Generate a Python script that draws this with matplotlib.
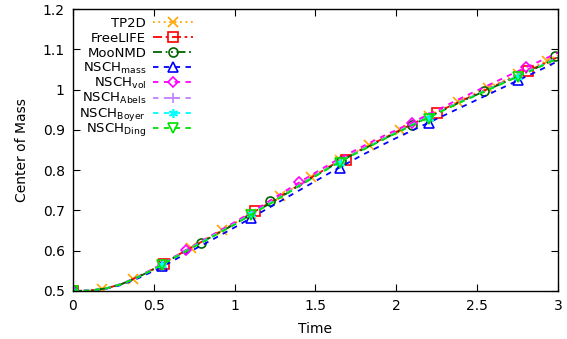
import numpy as np
import matplotlib
matplotlib.use("Agg")
import matplotlib.pyplot as plt

plt.rcParams['font.family'] = ['DejaVu Sans']
plt.rcParams['mathtext.fontset'] = 'dejavusans'

# -------------------------------------------------
# data
# -------------------------------------------------

time = np.round(np.arange(0, 31) * 0.1, 2)

tp2d = [0.500, 0.501, 0.506, 0.517, 0.534, 0.555, 0.578, 0.601, 0.624, 0.647, 0.669,
        0.692, 0.716, 0.740, 0.765, 0.789, 0.813, 0.835, 0.856, 0.876, 0.896,
        0.916, 0.935, 0.955, 0.974, 0.993, 1.011, 1.029, 1.048, 1.066, 1.085]
freelife = [0.500, 0.501, 0.506, 0.517, 0.535, 0.555, 0.578, 0.601, 0.623, 0.645, 0.668,
            0.692, 0.715, 0.739, 0.764, 0.788, 0.812, 0.834, 0.855, 0.875, 0.895,
            0.915, 0.934, 0.953, 0.972, 0.990, 1.008, 1.026, 1.044, 1.062, 1.081]
moonmd = [0.500, 0.501, 0.506, 0.517, 0.534, 0.554, 0.577, 0.600, 0.622, 0.644, 0.666,
          0.690, 0.713, 0.737, 0.762, 0.786, 0.810, 0.832, 0.853, 0.873, 0.893,
          0.913, 0.932, 0.951, 0.970, 0.988, 1.006, 1.024, 1.042, 1.060, 1.080]
nsch_mass = [0.500, 0.501, 0.505, 0.515, 0.531, 0.550, 0.571, 0.593, 0.614, 0.636, 0.658,
             0.681, 0.704, 0.727, 0.750, 0.773, 0.796, 0.818, 0.840, 0.860, 0.880,
             0.899, 0.918, 0.937, 0.956, 0.975, 0.994, 1.013, 1.032, 1.051, 1.071]
nsch_vol = [0.500, 0.501, 0.506, 0.518, 0.535, 0.556, 0.579, 0.602, 0.625, 0.648, 0.671,
            0.695, 0.720, 0.745, 0.770, 0.794, 0.818, 0.840, 0.861, 0.881, 0.900,
            0.919, 0.939, 0.959, 0.979, 0.998, 1.017, 1.036, 1.055, 1.073, 1.092]
nsch_abels = [0.500, 0.501, 0.506, 0.517, 0.534, 0.555, 0.577, 0.600, 0.623, 0.645, 0.667,
              0.691, 0.714, 0.738, 0.763, 0.787, 0.811, 0.833, 0.854, 0.874, 0.894,
              0.914, 0.933, 0.952, 0.971, 0.989, 1.007, 1.025, 1.043, 1.061, 1.081]
nsch_boyer = [0.500, 0.501, 0.506, 0.517, 0.534, 0.554, 0.577, 0.600, 0.622, 0.644, 0.666,
              0.690, 0.713, 0.737, 0.762, 0.786, 0.810, 0.832, 0.853, 0.873, 0.893,
              0.913, 0.932, 0.951, 0.970, 0.988, 1.006, 1.024, 1.042, 1.060, 1.079]
nsch_ding = [0.500, 0.501, 0.506, 0.517, 0.534, 0.554, 0.576, 0.599, 0.621, 0.643, 0.665,
             0.689, 0.712, 0.736, 0.761, 0.785, 0.809, 0.831, 0.852, 0.872, 0.892,
             0.912, 0.931, 0.950, 0.969, 0.987, 1.005, 1.023, 1.041, 1.059, 1.078]

# marker positions (time, value)
tp2d_mt = [0, 0.18, 0.37, 0.55, 0.73, 0.92, 1.10, 1.28, 1.47, 1.65, 1.83, 2.02, 2.20, 2.38, 2.57, 2.75, 2.93]
tp2d_mv = [0.500, 0.505, 0.530, 0.567, 0.608, 0.652, 0.692, 0.735, 0.782, 0.825, 0.862,
           0.900, 0.935, 0.970, 1.004, 1.038, 1.072]
freelife_mt = [0, 0.5625, 1.125, 1.6875, 2.25, 2.8125]
freelife_mv = [0.500, 0.568, 0.698, 0.826, 0.943, 1.046]
moonmd_mt = [0, 0.79, 1.22, 1.66, 2.10, 2.54, 2.98]
moonmd_mv = [0.500, 0.620, 0.723, 0.824, 0.913, 0.996, 1.084]
nsch_mass_mt = [0, 0.55, 1.10, 1.65, 2.20, 2.75]
nsch_mass_mv = [0.500, 0.562, 0.682, 0.806, 0.918, 1.024]
nsch_vol_mt = [0, 0.70, 1.40, 2.10, 2.80]
nsch_vol_mv = [0.500, 0.602, 0.770, 0.918, 1.056]
nsch_abels_mt = [0, 0.55, 1.10, 1.65, 2.20, 2.75]
nsch_abels_mv = [0.500, 0.566, 0.691, 0.820, 0.933, 1.034]
nsch_boyer_mt = [0, 0.55, 1.10, 1.65, 2.20, 2.75]
nsch_boyer_mv = [0.500, 0.565, 0.690, 0.819, 0.930, 1.032]
nsch_ding_mt = [0, 0.55, 1.10, 1.65, 2.20, 2.75]
nsch_ding_mv = [0.500, 0.564, 0.689, 0.818, 0.928, 1.031]

labels = ["TP2D", "FreeLIFE", "MooNMD",
          r"NSCH$_{\mathrm{mass}}$", r"NSCH$_{\mathrm{vol}}$",
          r"NSCH$_{\mathrm{Abels}}$", r"NSCH$_{\mathrm{Boyer}}$",
          r"NSCH$_{\mathrm{Ding}}$"]

# -------------------------------------------------
# plot
# -------------------------------------------------

series = [
    (tp2d, tp2d_mt, tp2d_mv, "#FFA500", (0, (1, 2)), "x"),
    (freelife, freelife_mt, freelife_mv, "#FF0000", (0, (5, 2, 1.5, 2)), "s"),
    (moonmd, moonmd_mt, moonmd_mv, "#006400", (0, (5, 2, 1, 2, 1, 2)), "o"),
    (nsch_mass, nsch_mass_mt, nsch_mass_mv, "#0000FF", (0, (3, 3)), "^"),
    (nsch_vol, nsch_vol_mt, nsch_vol_mv, "#FF00FF", (0, (3, 3)), "D"),
    (nsch_abels, nsch_abels_mt, nsch_abels_mv, "#C080FF", (0, (3, 3)), "+"),
    (nsch_boyer, nsch_boyer_mt, nsch_boyer_mv, "#00FFFF", (0, (3, 3)), (6, 2, 0)),
    (nsch_ding, nsch_ding_mt, nsch_ding_mv, "#00E000", (0, (3, 3)), "v"),
]

fig = plt.figure(figsize=(5.67, 3.39), dpi=100)
ax = fig.add_axes([0.1287, 0.1416, 0.8553, 0.8314])

# legend drawn by hand (gnuplot style: right aligned text, then sample)
leg_top = 0.954
leg_step = 0.0535
for i, ((vals, mt, mv, col, ls, mk), lab) in enumerate(zip(series, labels)):
    ms = 7 if mk in ("x", "+") else 6.5
    if mk == "D":
        ms = 5.5
    ax.plot(time, vals, color=col, linestyle=ls, linewidth=1.3)
    ax.plot(mt, mv, linestyle="none", marker=mk, color=col, markersize=ms,
            markerfacecolor="none", markeredgewidth=1.2)

    yl = leg_top - i * leg_step
    ax.plot([0.165, 0.247], [yl, yl], transform=ax.transAxes, clip_on=False,
            color=col, linestyle=ls, linewidth=1.3)
    ax.plot([0.206], [yl], transform=ax.transAxes, clip_on=False,
            linestyle="none", marker=mk, color=col, markersize=ms,
            markerfacecolor="none", markeredgewidth=1.2)
    ax.text(0.151, yl - 0.016, lab, transform=ax.transAxes, ha="right",
            va="baseline", fontsize=9.5)

ax.set_xlim(0, 3)
ax.set_ylim(0.5, 1.2)
ax.set_xticks([0, 0.5, 1, 1.5, 2, 2.5, 3])
ax.set_xticklabels(["0", "0.5", "1", "1.5", "2", "2.5", "3"])
ax.set_yticks([0.5, 0.6, 0.7, 0.8, 0.9, 1.0, 1.1, 1.2])
ax.set_yticklabels(["0.5", "0.6", "0.7", "0.8", "0.9", "1", "1.1", "1.2"])
ax.tick_params(direction="in", top=True, right=True, length=5, width=0.8,
               labelsize=10, pad=6)
for sp in ax.spines.values():
    sp.set_linewidth(1.0)

ax.set_xlabel("Time", fontsize=10, labelpad=6)
ax.set_ylabel("Center of Mass", fontsize=10, labelpad=10)

fig.savefig("out.png", dpi=100)
